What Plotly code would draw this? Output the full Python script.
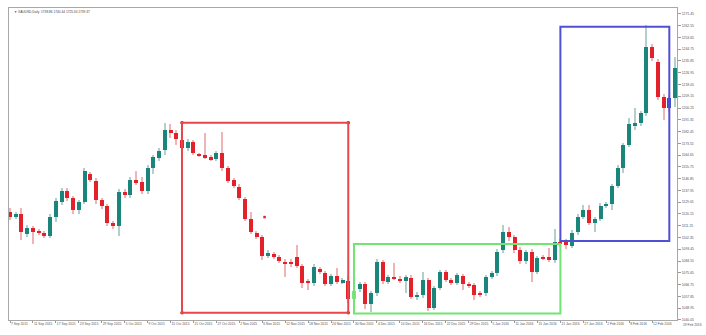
import plotly.graph_objects as go

# ---- data (XAUUSD daily) ----
OPEN = [1121.6,1117.8,1120.1,1105.0,1109.5,1106.5,1105.7,1103.5,1117.8,1129.2,
        1137.5,1132.2,1123.1,1129.2,1150.4,1145.1,1130.7,1126.2,1113.3,1111.0,
        1136.7,1134.5,1145.8,1144.3,1137.5,1154.9,1162.5,1168.5,1183.6,1181.4,
        1176.1,1170.0,1174.6,1165.0,1164.7,1163.2,1161.7,1166.2,1154.9,1145.8,
        1140.5,1131.5,1116.3,1105.7,1102.7,1088.4,1089.9,1087.6,1083.8,1083.1,
        1087.6,1080.8,1068.7,1067.9,1078.5,1075.5,1067.2,1073.2,1068.7,1069.5,
        1055.9,1063.4,1067.2,1052.1,1060.4,1083.8,1068.7,1072.5,1071.0,1069.5,
        1071.7,1057.4,1058.9,1070.2,1049.1,1064.2,1076.3,1070.2,1067.9,1073.2,
        1067.2,1066.4,1060.4,1060.4,1072.5,1075.3,1092.9,1106.7,1102.5,1092.9,
        1084.8,1091.6,1076.5,1087.6,1087.4,1085.3,1099.2,1099.7,1095.9,1106.3,
        1118.1,1123.1,1113.3,1116.3,1126.4,1127.7,1141.3,1154.7,1172.3,1187.4,
        1188.7,1196.2,1246.6,1235.3,1208.8,1207.6,1208.0]
HIGH = [1124.6,1122.0,1124.6,1111.5,1111.0,1108.5,1107.0,1120.0,1132.0,1140.0,
        1139.5,1134.0,1131.0,1155.0,1152.0,1147.0,1132.5,1128.0,1115.0,1139.0,
        1139.0,1148.0,1152.6,1148.0,1157.0,1165.0,1170.0,1188.9,1188.0,1184.0,
        1178.0,1176.5,1176.0,1166.5,1181.4,1164.5,1168.0,1182.1,1156.5,1147.5,
        1142.5,1133.0,1121.9,1107.0,1104.5,1093.0,1091.5,1089.5,1086.0,1086.3,
        1096.7,1082.5,1071.0,1082.0,1080.0,1077.0,1075.0,1079.3,1072.0,1073.0,
        1064.0,1069.0,1069.0,1062.0,1086.0,1085.5,1074.0,1083.1,1073.0,1074.0,
        1074.0,1061.0,1076.3,1072.0,1066.0,1078.0,1078.0,1072.0,1075.5,1075.0,
        1069.0,1068.0,1062.0,1074.0,1077.0,1093.5,1111.8,1110.5,1104.5,1095.0,
        1093.0,1094.0,1088.5,1089.0,1094.5,1108.5,1101.0,1101.0,1108.0,1120.0,
        1126.9,1127.0,1118.0,1128.5,1129.5,1143.0,1157.0,1174.0,1193.0,1200.0,
        1198.0,1263.0,1248.5,1237.0,1211.0,1210.0,1239.0]
LOW = [1115.6,1116.0,1100.5,1103.0,1097.4,1104.0,1102.0,1102.0,1114.0,1127.0,
       1130.0,1120.5,1120.0,1127.5,1144.0,1128.0,1124.0,1111.0,1109.0,1103.5,
       1132.5,1132.0,1142.0,1135.5,1135.5,1150.0,1160.0,1165.0,1177.5,1172.0,
       1168.0,1168.0,1164.5,1163.5,1161.5,1160.5,1160.0,1153.0,1143.5,1139.5,
       1130.5,1114.5,1105.0,1101.0,1085.0,1086.5,1086.0,1083.0,1072.5,1080.0,
       1079.0,1064.2,1063.0,1066.0,1074.5,1065.5,1065.5,1067.0,1067.5,1053.0,
       1054.5,1061.5,1048.5,1046.0,1058.5,1067.5,1067.0,1070.0,1068.0,1060.4,
       1056.0,1055.5,1057.0,1046.5,1047.5,1062.5,1068.5,1066.5,1066.5,1063.0,
       1064.0,1055.5,1057.5,1058.5,1071.0,1073.5,1091.0,1100.0,1090.5,1082.5,
       1082.5,1069.0,1074.5,1085.0,1084.0,1083.0,1095.0,1093.5,1094.5,1104.5,
       1116.5,1111.5,1106.7,1114.5,1125.0,1123.1,1139.5,1151.0,1170.5,1183.6,
       1187.0,1194.5,1235.5,1206.0,1191.2,1197.0,1201.2]
CLOSE = [1117.8,1120.1,1106.5,1109.5,1106.5,1106.0,1103.5,1117.8,1129.9,1137.5,
         1132.2,1123.1,1129.2,1152.6,1145.8,1130.7,1126.2,1113.3,1111.0,1136.7,
         1134.5,1145.8,1144.3,1137.5,1154.9,1163.2,1167.7,1183.6,1182.1,1176.8,
         1170.0,1174.6,1166.2,1164.7,1163.2,1161.7,1166.2,1154.9,1145.1,1141.3,
         1132.2,1116.3,1106.5,1102.7,1088.4,1090.6,1087.6,1084.6,1083.1,1082.8,
         1080.8,1067.9,1068.3,1080.0,1076.3,1067.2,1073.2,1068.7,1070.2,1055.9,
         1061.9,1067.2,1052.1,1060.4,1083.8,1069.5,1072.5,1071.7,1069.5,1072.5,
         1057.4,1058.9,1070.2,1049.1,1064.2,1076.3,1070.2,1067.9,1074.0,1067.2,
         1066.4,1058.9,1058.9,1072.5,1075.3,1091.6,1106.7,1102.9,1092.9,1084.8,
         1091.6,1076.5,1086.6,1086.8,1085.9,1099.2,1097.5,1096.7,1106.0,1118.1,
         1123.1,1113.5,1116.3,1126.4,1127.7,1141.3,1154.7,1172.3,1188.2,1188.7,
         1196.2,1246.6,1238.0,1208.8,1200.0,1200.0,1230.7]

X_TICK_LABELS = ["7 Sep 2015", "11 Sep 2015", "17 Sep 2015", "23 Sep 2015", "29 Sep 2015",
                 "5 Oct 2015", "9 Oct 2015", "15 Oct 2015", "21 Oct 2015", "27 Oct 2015",
                 "2 Nov 2015", "6 Nov 2015", "12 Nov 2015", "18 Nov 2015", "24 Nov 2015",
                 "30 Nov 2015", "4 Dec 2015", "10 Dec 2015", "16 Dec 2015", "22 Dec 2015",
                 "29 Dec 2015", "5 Jan 2016", "11 Jan 2016", "15 Jan 2016", "21 Jan 2016",
                 "27 Jan 2016", "2 Feb 2016", "8 Feb 2016", "12 Feb 2016"]
LAST_LABEL = "19 Feb 2016"
Y_TICKS = [1271.45, 1262.55, 1253.65, 1244.75, 1235.85, 1226.95, 1218.05, 1209.15,
           1200.25, 1191.35, 1182.45, 1173.55, 1164.65, 1155.75, 1146.85, 1137.95,
           1129.05, 1120.15, 1111.25, 1102.35, 1093.45, 1084.55, 1075.65, 1066.75,
           1057.85, 1048.95, 1040.05]
TITLE = "XAUUSD,Daily  1738.86 1740.44 1725.30 1739.37"

# rectangles: (first bar, last bar, low price, high price)
RECT_RED = (30, 59, 1045.5, 1189.1)
RECT_GREEN = (60, 96, 1045.0, 1097.4)
RECT_BLUE = (96, 115, 1099.7, 1261.7)
STRAY_X = [44.4]
STRAY_Y = [1117.8]

# ---- styling ----
TEAL = "#1a857b"
RED = "#e3212b"
TEAL_WICK = "#b3cfcc"
RED_WICK = "#eeb4b6"
OVERRIDE = {60: "#86e086", 115: "#3d4fc4"}

W, H = 706, 335
ML, MR, MT, MB = 9, 29, 8, 15
PW, PH = W - ML - MR, H - MT - MB

n = len(OPEN)
idx = list(range(n))
body_col, wick_col, body_base, body_h = [], [], [], []
for i in idx:
    up = CLOSE[i] >= OPEN[i]
    body_col.append(OVERRIDE.get(i, TEAL if up else RED))
    wick_col.append(TEAL_WICK if up else RED_WICK)
    lo = min(OPEN[i], CLOSE[i])
    h = abs(CLOSE[i] - OPEN[i])
    if h < 0.8:
        lo -= (0.8 - h) / 2
        h = 0.8
    body_base.append(lo)
    body_h.append(h)

fig = go.Figure()
fig.add_trace(go.Bar(x=idx, y=[HIGH[i] - LOW[i] for i in idx], base=LOW, width=0.2,
                     marker=dict(color=wick_col, line=dict(width=0)), hoverinfo="skip"))
fig.add_trace(go.Bar(x=idx, y=body_h, base=body_base, width=0.7,
                     marker=dict(color=body_col, line=dict(width=0)),
                     customdata=list(zip(OPEN, HIGH, LOW, CLOSE)),
                     hovertemplate="O %{customdata[0]}<br>H %{customdata[1]}<br>L %{customdata[2]}<br>C %{customdata[3]}<extra></extra>"))
fig.add_trace(go.Scatter(x=STRAY_X, y=STRAY_Y, mode="markers",
                         marker=dict(symbol="square", size=2.5, color=RED), hoverinfo="skip"))

for (x0, x1, y0, y1), col in [(RECT_RED, "#e8464a"), (RECT_GREEN, "#72e472"), (RECT_BLUE, "#5050d4")]:
    fig.add_shape(type="rect", x0=x0, x1=x1, y0=y0, y1=y1, xref="x", yref="y",
                  line=dict(color=col, width=2), layer="above")

rx0, rx1, ry0, ry1 = RECT_RED
fig.add_trace(go.Scatter(x=[rx0, rx1, rx0, rx1], y=[ry0, ry0, ry1, ry1], mode="markers",
                         marker=dict(size=3.5, color="#c81e24"), hoverinfo="skip"))

font = "Liberation Sans"
fig.update_layout(
    width=W, height=H,
    margin=dict(l=ML, r=MR, t=MT, b=MB, autoexpand=False),
    paper_bgcolor="white", plot_bgcolor="white",
    showlegend=False, barmode="overlay", bargap=0,
    font=dict(family=font, size=3.3, color="#555555"),
)
fig.update_xaxes(range=[-0.174, 116.34], showgrid=False, zeroline=False, automargin=False,
                 tickvals=list(range(0, 4 * len(X_TICK_LABELS), 4)), ticktext=X_TICK_LABELS,
                 tickangle=0, ticklabelposition="outside right", ticks="outside", ticklen=2,
                 tickcolor="#999999", tickwidth=1,
                 showline=True, linecolor="#a8a8a8", linewidth=1, mirror=True,
                 tickfont=dict(family=font, size=3.3, color="#555555"), fixedrange=True)
fig.update_yaxes(range=[1040.0, 1275.85], side="right", showgrid=False, zeroline=False,
                 automargin=False,
                 tickvals=Y_TICKS, ticktext=[f"{v:.2f}" for v in Y_TICKS],
                 ticks="outside", ticklen=3, tickcolor="#999999", tickwidth=1,
                 showline=True, linecolor="#a8a8a8", linewidth=1, mirror=True,
                 tickfont=dict(family=font, size=3.4, color="#555555"), fixedrange=True)

# title (pixel position converted to paper fractions)
fig.add_annotation(x=(12 - ML) / PW, y=1 - (12 - MT) / PH, xref="paper", yref="paper",
                   text="▼ " + TITLE, showarrow=False, xanchor="left", yanchor="middle",
                   font=dict(family=font, size=3.2, color="#444444"))
# last date label sits past the axis on the right
fig.add_annotation(x=(704 - ML) / PW, y=-(325 - (H - MB)) / PH, xref="paper", yref="paper",
                   text=LAST_LABEL, showarrow=False, xanchor="right", yanchor="middle",
                   font=dict(family=font, size=3.3, color="#555555"))

fig.write_html("out.html")
